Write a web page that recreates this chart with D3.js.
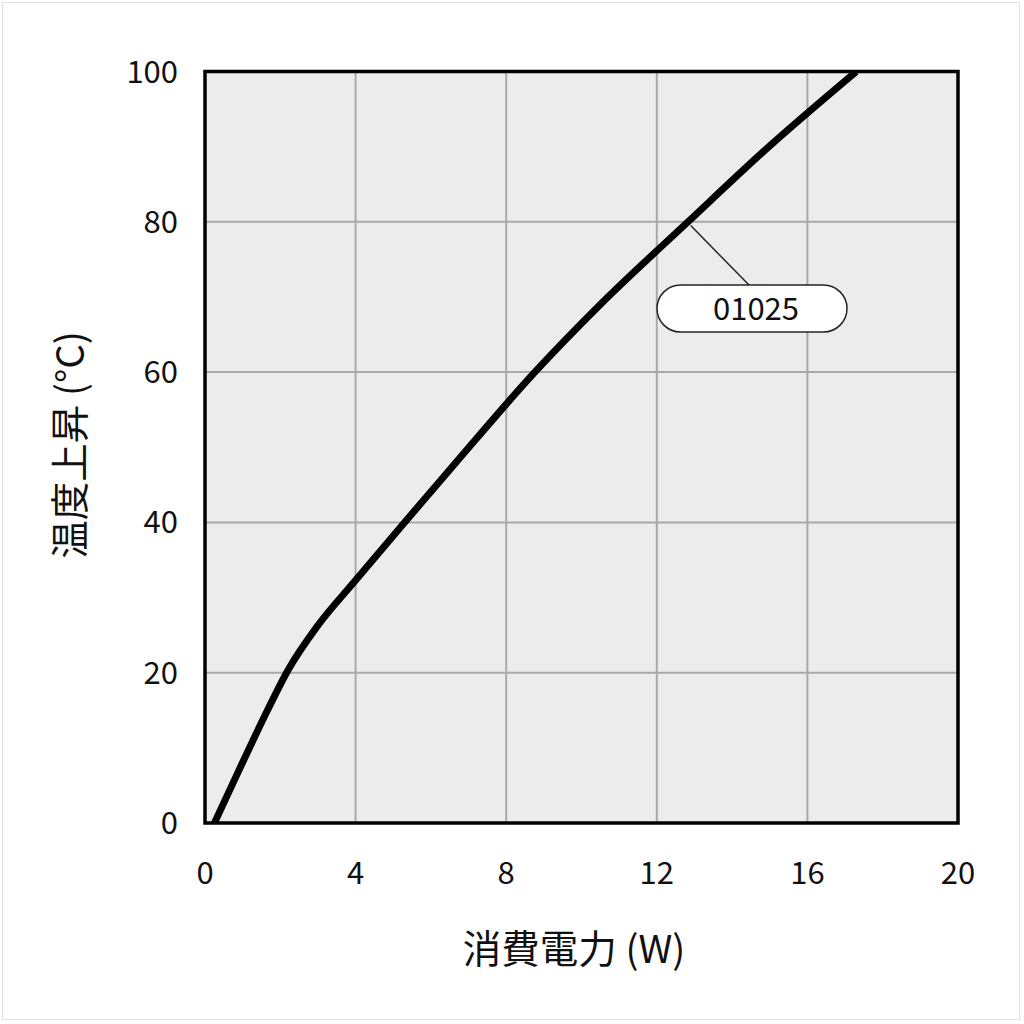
<!DOCTYPE html>
<html><head><meta charset="utf-8">
<script src="https://cdn.jsdelivr.net/npm/d3@7"></script>
<style>body{margin:0;background:#fff}svg{display:block}text{font-family:"Noto Sans CJK JP","Noto Sans",sans-serif;fill:#111}</style>
</head><body>
<script>
const powerW = [0.25, 0.9, 1.65, 2.2, 3.0, 4.0, 5.3, 6.5, 8.76, 10.5, 12.83, 15, 17.3];
const tempRise = [0, 7, 14.9, 20.3, 26.3, 32.3, 40, 47, 60, 69, 80, 90.1, 100];
const xTicks = [0, 4, 8, 12, 16, 20];
const yTicks = [0, 20, 40, 60, 80, 100];
const seriesLabel = "01025";
const labelAnchor = [12.9, 79.5];
const xTitle = "消費電力 (W)";
const yTitle = "温度上昇 (°C)";

const W = 1024, H = 1024;
const svg = d3.select("body").append("svg").attr("width", W).attr("height", H);
svg.append("rect").attr("x",2.5).attr("y",2.5).attr("width",1017).attr("height",1017).attr("fill","#fff").attr("stroke","#e2e2e2").attr("stroke-width",1);

const x = d3.scaleLinear().domain([0,20]).range([205,958]);
const y = d3.scaleLinear().domain([0,100]).range([823,71.5]);

svg.append("rect").attr("x",x(0)).attr("y",y(100)).attr("width",x(20)-x(0)).attr("height",y(0)-y(100)).attr("fill","#ececed");

const g = svg.append("g");
g.selectAll("line.vx").data(xTicks.slice(1,-1)).join("line")
  .attr("x1",d=>x(d)).attr("x2",d=>x(d)).attr("y1",y(0)).attr("y2",y(100))
  .attr("stroke","#a9a9a9").attr("stroke-width",2);
g.selectAll("line.hy").data(yTicks.slice(1,-1)).join("line")
  .attr("y1",d=>y(d)).attr("y2",d=>y(d)).attr("x1",x(0)).attr("x2",x(20))
  .attr("stroke","#a9a9a9").attr("stroke-width",2);

const pts = powerW.map((p,i)=>[p,tempRise[i]]);
const line = d3.line().x(d=>x(d[0])).y(d=>y(d[1])).curve(d3.curveMonotoneX);
svg.append("defs").append("clipPath").attr("id","clip").append("rect")
  .attr("x",x(0)).attr("y",y(100)).attr("width",x(20)-x(0)).attr("height",y(0)-y(100));
svg.append("path").datum(pts).attr("d",line).attr("fill","none").attr("stroke","#000")
  .attr("stroke-width",7).attr("clip-path","url(#clip)");

svg.append("rect").attr("x",x(0)).attr("y",y(100)).attr("width",x(20)-x(0)).attr("height",y(0)-y(100))
  .attr("fill","none").attr("stroke","#000").attr("stroke-width",3.5);

// label
const bx = 657, by = 285, bw = 190, bh = 47;
svg.append("line").attr("x1",x(labelAnchor[0])).attr("y1",y(labelAnchor[1])).attr("x2",749).attr("y2",by)
  .attr("stroke","#2a2222").attr("stroke-width",1.5);
svg.append("rect").attr("x",bx).attr("y",by).attr("width",bw).attr("height",bh).attr("rx",23.5)
  .attr("fill","#fff").attr("stroke","#2a2222").attr("stroke-width",1.5);
svg.append("text").attr("x",bx+bw/2+4).attr("y",by+bh/2+11).attr("text-anchor","middle")
  .attr("font-size",31).text(seriesLabel);

// tick labels
svg.selectAll("text.xt").data(xTicks).join("text").attr("class","xt")
  .attr("x",d=>x(d)).attr("y",884).attr("text-anchor","middle").attr("font-size",31).text(d=>d);
svg.selectAll("text.yt").data(yTicks).join("text").attr("class","yt")
  .attr("x",178).attr("y",d=>y(d)+11).attr("text-anchor","end").attr("font-size",31).text(d=>d);

svg.append("text").attr("x",574).attr("y",963).attr("text-anchor","middle").attr("font-size",38.5).text(xTitle);
svg.append("text").attr("transform","translate(84,445) rotate(-90)").attr("text-anchor","middle").attr("font-size",38.5).text(yTitle);
</script>
</body></html>
